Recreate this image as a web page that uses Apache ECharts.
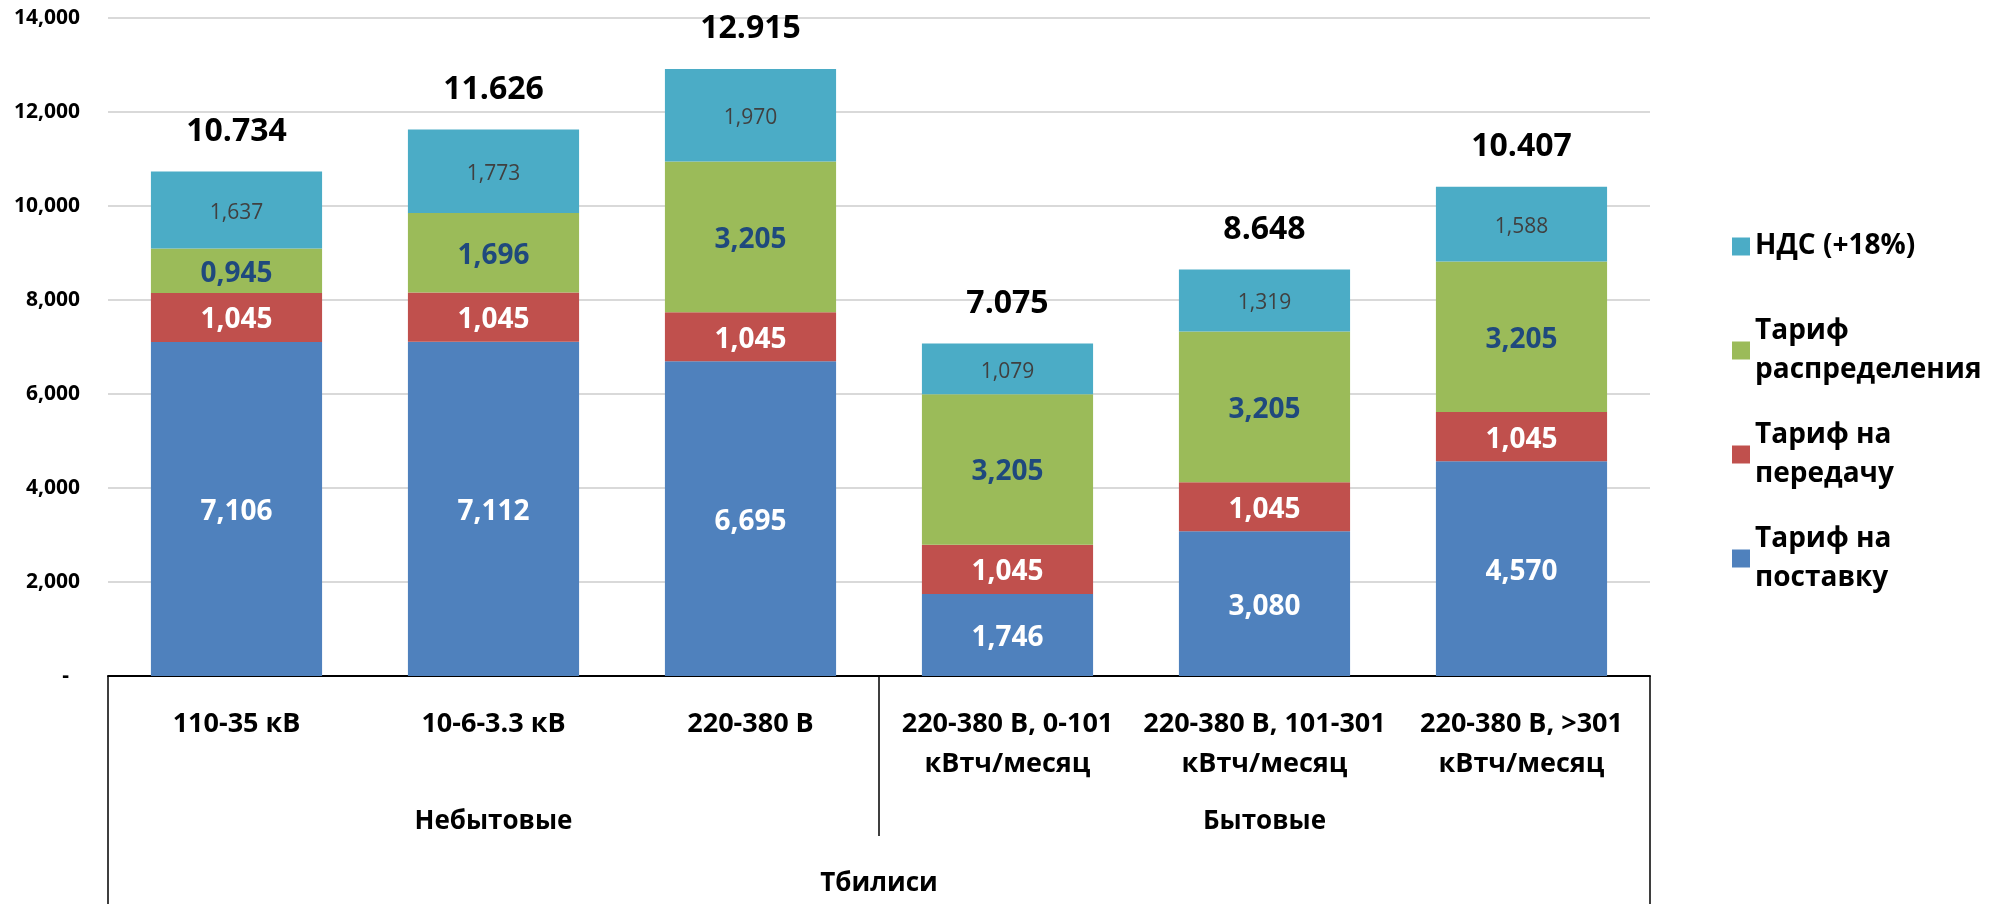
<!DOCTYPE html>
<html>
<head>
<meta charset="utf-8">
<title>Тарифы Тбилиси</title>
<script src="https://cdn.jsdelivr.net/npm/echarts@6.0.0/dist/echarts.min.js"></script>
<style>
  html, body { margin: 0; padding: 0; background: #fff; }
  #chart { width: 1989px; height: 904px; }
</style>
</head>
<body>
<div id="chart"></div>
<script>
// подписи категорий (три уровня)
var categories = ['110-35 кВ', '10-6-3.3 кВ', '220-380 В',
	'220-380 В, 0-101\nкВтч/месяц', '220-380 В, 101-301\nкВтч/месяц', '220-380 В, >301\nкВтч/месяц'];
var groups = ['Небытовые', 'Бытовые'];
var regions = ['Тбилиси'];

// значения сегментов
var supply = [7106, 7112, 6695, 1746, 3080, 4570];
var transmission = [1045, 1045, 1045, 1045, 1045, 1045];
var distribution = [945, 1696, 3205, 3205, 3205, 3205];
var vat = [1637, 1773, 1970, 1079, 1319, 1588];
var totals = [10734, 11626, 12915, 7075, 8648, 10407];

var yMin = 0, yMax = 14000, yStep = 2000;

function segFmt(v) {
	var th = Math.floor(v / 1000);
	var rest = String(v % 1000);
	while (rest.length < 3) rest = '0' + rest;
	return th + ',' + rest;
}

var font = 'Open Sans';
var chart = echarts.init(document.getElementById('chart'));

function segLabel(color, size, weight) {
	return {
		show: true,
		position: 'inside',
		offset: [0, 3],
		color: color,
		fontSize: size,
		fontWeight: weight,
		fontFamily: font,
		formatter: function (p) { return segFmt(p.value); }
	};
}

function legendAt(name, top, twoLines) {
	return {
		data: [name],
		left: 1732,
		top: top,
		padding: 0,
		itemWidth: 18,
		itemHeight: 18,
		icon: 'rect',
		selectedMode: false,
		textStyle: {
			color: '#000',
			fontSize: 28,
			fontWeight: 'bold',
			fontFamily: font,
			lineHeight: 39,
			padding: twoLines ? [39, 0, 0, 0] : 0
		}
	};
}

function catLabel(margin, size) {
	return {
		interval: 0,
		margin: margin,
		color: '#000',
		fontSize: size,
		fontWeight: 'bold',
		fontFamily: font,
		lineHeight: 40
	};
}

var option = {
	animation: false,
	textStyle: { fontFamily: font },
	grid: { left: 108, right: 339, top: 18, bottom: 221 },
	legend: [
		legendAt('НДС (+18%)', 227, false),
		legendAt('Тариф\nраспределения', 292, true),
		legendAt('Тариф на\nпередачу', 396, true),
		legendAt('Тариф на\nпоставку', 500, true)
	],
	xAxis: [
		{
			type: 'category',
			data: categories,
			position: 'bottom',
			axisLine: { show: true, lineStyle: { color: '#000', width: 2 } },
			axisTick: { show: false },
			axisLabel: catLabel(28, 27)
		},
		{
			type: 'category',
			data: groups,
			position: 'bottom',
			axisLine: { show: false },
			axisTick: { show: true, interval: 0, length: 160, lineStyle: { color: '#000', width: 1.5 } },
			axisLabel: catLabel(126, 26)
		},
		{
			type: 'category',
			data: regions,
			position: 'bottom',
			axisLine: { show: false },
			axisTick: { show: true, interval: 0, length: 240, lineStyle: { color: '#000', width: 1.5 } },
			axisLabel: catLabel(188, 26)
		}
	],
	yAxis: {
		type: 'value',
		min: yMin,
		max: yMax,
		interval: yStep,
		axisLine: { show: false },
		axisTick: { show: false },
		splitLine: { lineStyle: { color: '#d9d9d9', width: 2 } },
		axisLabel: {
			margin: 28,
			color: '#000',
			fontSize: 21,
			fontWeight: 'bold',
			fontFamily: font,
			formatter: function (v) {
				if (v === 0) return '-  ';
				return v.toLocaleString('en-US');
			}
		}
	},
	series: [
		{
			name: 'Тариф на\nпоставку',
			type: 'bar',
			stack: 'total',
			barWidth: '66.6%',
			data: supply,
			itemStyle: { color: '#4F81BD' },
			label: segLabel('#fff', 28, 'bold')
		},
		{
			name: 'Тариф на\nпередачу',
			type: 'bar',
			stack: 'total',
			data: transmission,
			itemStyle: { color: '#C0504D' },
			label: segLabel('#fff', 28, 'bold')
		},
		{
			name: 'Тариф\nраспределения',
			type: 'bar',
			stack: 'total',
			data: distribution,
			itemStyle: { color: '#9BBB59' },
			label: segLabel('#1F497D', 28, 'bold')
		},
		{
			name: 'НДС (+18%)',
			type: 'bar',
			stack: 'total',
			data: vat,
			itemStyle: { color: '#4BACC6' },
			label: segLabel('#404040', 21, 'normal')
		},
		{
			// итоговые суммы над столбцами
			name: 'Итого',
			type: 'scatter',
			data: totals,
			symbolSize: 0,
			silent: true,
			itemStyle: { opacity: 1 },
			label: {
				show: true,
				position: 'top',
				distance: 20,
				color: '#000',
				opacity: 1,
				fontSize: 32,
				fontWeight: 'bold',
				fontFamily: font,
				lineHeight: 40,
				formatter: function (p) { return (p.value / 1000).toFixed(3); }
			}
		}
	]
};

chart.setOption(option);
</script>
</body>
</html>
